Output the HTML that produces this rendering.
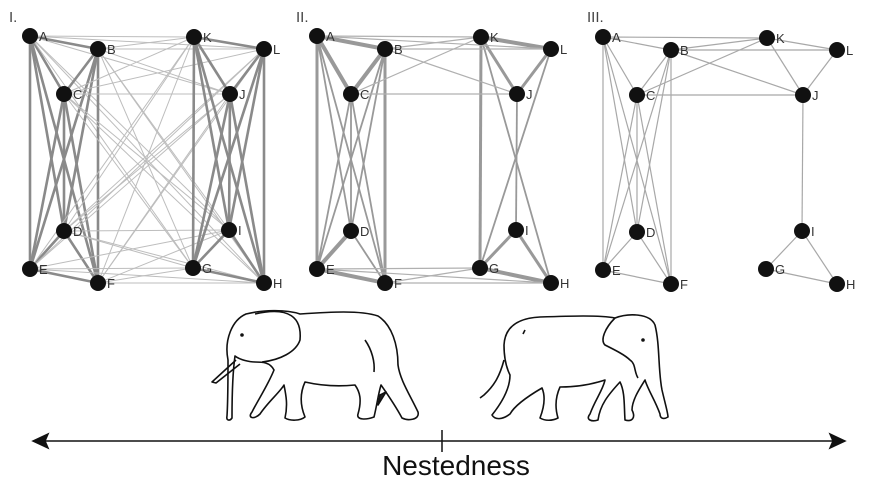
<!DOCTYPE html>
<html><head><meta charset="utf-8"><style>
html,body{margin:0;padding:0;background:#fff;width:870px;height:484px;overflow:hidden}
svg{display:block}
</style></head><body>
<svg id="s" width="870" height="484" xmlns="http://www.w3.org/2000/svg" font-family="Liberation Sans, sans-serif">
<text x="9" y="22" font-size="15" fill="#444">I.</text>
<text x="296" y="22" font-size="15" fill="#444">II.</text>
<text x="587" y="22" font-size="15" fill="#444">III.</text>
<g id="g"></g>
<g fill="none" stroke="#111" stroke-width="1.6" stroke-linejoin="round">
<path d="M228,360 C224,340 232,320 246,314 C262,310 285,309 300,314 C330,312 360,310 378,316 C392,325 398,345 398,365 C400,380 410,395 418,412 C420,420 408,421 402,418 C395,405 388,395 381,385 C378,395 377,405 374,417 C366,420 356,420 358,414 C362,400 360,392 355,385 C335,387 318,385 305,382 C300,393 300,405 305,417 C300,421 290,421 285,418 C288,405 286,395 284,385 C280,392 268,402 260,414 C254,420 247,418 252,412 C258,400 268,385 274,370 C270,362 262,362 255,362 C250,362 240,360 235,356 C233,370 232,390 232,418 C230,421 226,421 227,416 C228,400 228,380 228,360 Z"/>
<path d="M255,314 C290,306 302,318 300,340 C296,352 280,360 262,362"/>
<path d="M236,360 L212,382 L216,383 L240,364"/>
<path d="M365,340 C372,350 375,362 374,372"/>
<circle cx="242" cy="335" r="1" fill="#111"/>
<path d="M380,395 L386,392 L378,405 Z" fill="#222"/>
</g>
<g fill="none" stroke="#111" stroke-width="1.6" stroke-linejoin="round">
<path d="M504,345 C505,325 520,318 540,317 C570,316 600,315 615,318 C628,313 650,313 655,325 C660,345 658,370 662,390 C665,403 668,413 668,417 C663,420 660,418 660,414 C655,400 648,390 645,380 C640,388 632,400 632,410 C636,418 632,422 625,420 C624,405 625,392 620,382 C608,395 600,405 598,420 C592,422 585,420 590,414 C595,400 603,390 605,380 C590,385 575,387 560,387 C555,398 555,408 558,418 C552,421 545,421 540,418 C545,405 545,395 542,388 C530,395 515,405 510,414 C502,420 495,420 492,415 C500,405 510,390 510,375 C505,365 504,355 504,345 Z"/>
<path d="M504,360 C500,375 495,385 484,395 L480,398"/>
<path d="M615,318 C605,328 600,340 605,345 C615,350 625,355 630,360 C636,364 634,372 638,378"/>
<circle cx="643" cy="340" r="1" fill="#111"/>
<path d="M525,330 L523,334"/>
</g>
<g stroke="#111" stroke-width="1.5" fill="#111">
<line x1="36" y1="441" x2="842" y2="441"/>
<path d="M33,441 L48,434 L45,441 L48,448 Z"/>
<path d="M845,441 L830,434 L833,441 L830,448 Z"/>
<line x1="442" y1="430" x2="442" y2="452"/>
</g>
<text x="456" y="475" font-size="28" text-anchor="middle" fill="#111">Nestedness</text>
</svg>
<script>
var base={A:[30,36],B:[98,49],K:[194,37],L:[264,49],C:[64,94],J:[230,94],D:[64,231],I:[229,230],E:[30,269],F:[98,283],G:[193,268],H:[264,283]};
var offs=[0,287,573];
var g=document.getElementById('g');var ns='http://www.w3.org/2000/svg';
function P(p,n){var b=base[n];return [b[0]+offs[p],b[1]+(p==2?1:0)];}
function line(p,a,b,w,c){var A=P(p,a),B=P(p,b);var l=document.createElementNS(ns,'line');l.setAttribute('x1',A[0]);l.setAttribute('y1',A[1]);l.setAttribute('x2',B[0]);l.setAttribute('y2',B[1]);l.setAttribute('stroke',c);l.setAttribute('stroke-width',w);g.appendChild(l);}
var left='ABCDEF'.split(''),right='KLJIGH'.split('');
var all=left.concat(right);
for(var i=0;i<12;i++)for(var j=i+1;j<12;j++){var a=all[i],b=all[j];var same=(left.indexOf(a)>=0)==(left.indexOf(b)>=0);line(0,a,b,same?2.6:1,same?'#8a8a8a':'#bdbdbd');}
var strong={AB:4,AC:4,BC:4,DE:4,EF:4,KL:4,GH:4,KJ:3,LJ:3,IG:3,IH:3,AE:3,BF:3,KG:3,LH:3};
var e2=['AB','AC','AD','AE','AF','BC','BD','BE','BF','CD','CE','CF','DE','DF','EF','KL','KJ','KG','KH','LJ','LG','JI','IG','IH','GH','AK','AL','BK','BL','BJ','CK','CJ','EG','EH','FG','FH'];
e2.forEach(function(e){var w=strong[e]||1.8;var cross=(left.indexOf(e[0])>=0)!=(left.indexOf(e[1])>=0);line(1,e[0],e[1],cross?1.2:w,cross?'#b0b0b0':'#999');});
var e3=['AB','AC','AD','AE','AF','BC','BD','BE','BF','CD','CE','CF','DE','DF','EF','AK','BK','BL','BJ','CK','CJ','KL','KJ','LJ','JI','IG','IH','GH'];
e3.forEach(function(e){line(2,e[0],e[1],1.2,'#a8a8a8');});
for(var p=0;p<3;p++)all.forEach(function(n){var q=P(p,n);var c=document.createElementNS(ns,'circle');c.setAttribute('cx',q[0]);c.setAttribute('cy',q[1]);c.setAttribute('r',8);c.setAttribute('fill','#111');g.appendChild(c);var t=document.createElementNS(ns,'text');t.setAttribute('x',q[0]+9);t.setAttribute('y',q[1]+5);t.setAttribute('font-size','13');t.setAttribute('fill','#333');t.textContent=n;g.appendChild(t);});
</script>
</body></html>
